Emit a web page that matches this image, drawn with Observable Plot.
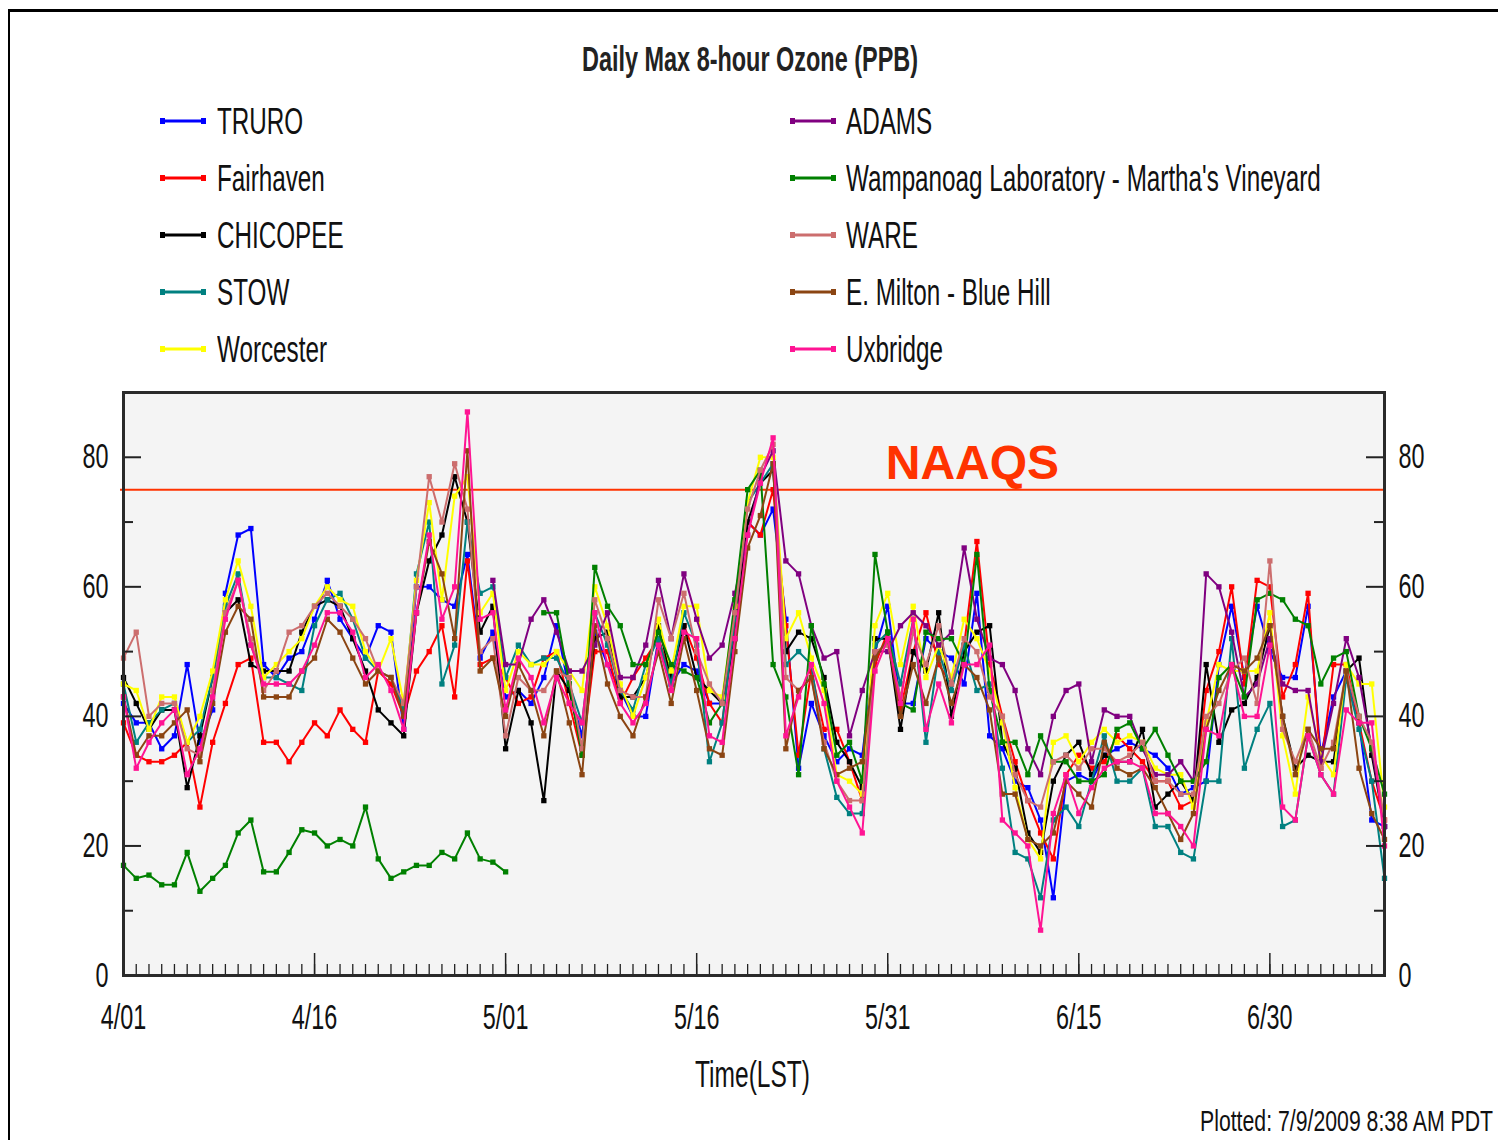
<!DOCTYPE html>
<html>
<head>
<meta charset="utf-8">
<script src="https://cdn.jsdelivr.net/npm/d3@7"></script>
<script src="https://cdn.jsdelivr.net/npm/@observablehq/plot@0.6"></script>
<style>
  html, body { margin: 0; padding: 0; background: #fff; }
  #page { position: relative; width: 1498px; height: 1140px; overflow: hidden; background: #fff;
          font-family: "Liberation Sans", Arial, sans-serif; }
  #frameOuter { position: absolute; left: 8px; top: 9px; right: -10px; bottom: -10px;
                border-top: 3px solid #000; border-left: 2px solid #000; }
  #chart { position: absolute; left: 0; top: 380px; }
  .sw { position: absolute; }
</style>
</head>
<body>
<div id="page">
  <div id="frameOuter"></div>
  <div id="chart"></div>
</div>
<script>
// ---------- data (daily max 8-hour ozone, ppb; index 0 = 4/01) ----------
const truro = [42,39,39,35,37,48,36,41,59,68, 69,48,46,49,50,55,61,55,52,49,
  54,53,38,60,60,58,57,65,49,53, 43,44,42,46,54,44,37,53,48,44,
  40,40,52,45,48,47,42,42,55,70, 68,72,55,32,42,37,33,35,34,50,
  57,42,42,52,50,49,45,59,37,35, 30,29,24,12,30,31,30,34,35,36,
  35,34,32,28,29,30,48,57,46,57, 50,46,46,57,34,43,47,39,24,23];
const fairhaven = [39,34,33,33,34,36,26,36,42,48, 49,36,36,33,36,39,37,41,38,36,
  47,45,40,47,50,54,43,64,48,49, 46,42,43,49,50,42,34,50,50,42,
  46,49,52,46,54,49,42,39,54,70, 68,75,54,34,47,38,38,33,27,48,
  53,41,50,56,48,45,51,67,48,40, 33,27,22,18,31,34,32,33,37,35,
  33,30,30,26,27,44,50,60,45,61, 60,43,48,59,32,48,48,39,30,24];
const chicopee = [46,42,38,41,41,29,37,46,56,58, 48,47,47,47,53,57,58,57,52,47,
  41,39,37,56,64,68,77,70,53,57, 35,44,39,27,47,44,35,52,53,43,
  43,46,54,46,54,46,44,42,52,70, 76,78,50,53,52,46,36,33,29,52,
  52,38,50,47,56,40,50,53,54,36, 32,22,19,30,34,36,31,34,33,33,
  38,26,28,30,27,48,36,41,42,46, 54,40,32,34,33,33,47,49,34,23];
const stow = [45,36,39,41,42,36,38,46,57,62, 51,46,46,45,44,54,58,59,55,49,
  47,46,41,62,70,45,51,70,59,60, 46,51,48,49,49,45,39,56,51,44,
  41,48,52,45,56,51,33,39,55,73, 76,79,48,50,48,35,27.5,25,25,51,
  53,45,55,36,50,44,51,44,45,32, 19,18,12,24,26,23,30,37,30,30,
  32,23,23,19,18,30,30,52,32,38, 42,23,24,37,31,28,46,38,30,15];
const worcester = [45,44,38,43,43,36,40,47,58,64, 57,46,48,50,52,57,60,58,57,50,
  47,52,42,61,73,58,74,77,56,59, 44,50,48,48,50,47,44,60,54,45,
  40,46,55,47,57,57,44,43,57,73, 80,80,52,56,49,44,31,30,28,54,
  59,48,57,46,51,46,55,52,47,39, 29,21,18,36,37,33,36,38,36,37,
  36,32,31,31,26,39,48,47,47,47, 56,37,28,43,34,31,48,45,45,26];
const ADAMS_START = 29; // first day with data (4/30)
const adams = [61,48,48,55,58,53,47,47,51,56,46,
  46,51,61,52,62,55,49,51,59,68, 77,81,64,62,54,49,50,37,44,50,
  50,54,56,54,51,53,66,55,49,48, 44,35,31,40,44,45,33,41,40,40,
  35,31,31,33,30,62,60,53,43,45, 52,45,44,44,33,42,52,46,35,23];
const wampanoag = [17,15,15.5,14,14,19,13,15,17,22, 24,16,16,19,22.5,22,20,21,20,26,
  18,15,16,17,17,19,18,22,18,17.5, 16,null,null,56,56,45,34,63,57,54,
  48,48,53,48,47,46,39,42,58,75, 78,48,43,31,54,45,34,36,30,65,
  53,42,41,53,52,52,48,65,44,36, 36,31,37,33,33,30,30,31,38,39,
  35,38,34,30,30,33,46,48,43,58, 59,58,55,54,45,49,50,40,35,28];
const ware = [49,53,40,42,42,35,34,44,56,61, 52,44,47,53,54,57,59,57,55,52,
  47,46,42,60,77,70,79,72,50,52, 37,46,44,44,47,46,35,58,52,44,
  43,43,58,52,59,50,45,42,56,72, 78,82,46,44,46,36,30,27,27,50,
  51,43,53,48,54,45,52,50,43,40, 31,27,26,33,34,32,35,35,33,34,
  36,30,30,28,28,40,42,47,49,42, 64,38,33,38,32,36,47,40,36,24];
const eMilton = [43,34,37,37,39,41,33,42,53,57, 55,43,43,43,47,49,55,53,49,45,
  47,46,40,56,67,62,52,81,47,49, 40,48,44,37,47,39,31,54,45,40,
  37,43,50,42,52,44,35,34,50,66, 71,79,35,44,46,35,31,32,33,49,
  52,40,48,42,49,42,48,46,41,28, 28,21,20,22,30,28,26,36,32,31,
  32,29,25,21,25,38,44,48,47,49, 54,40,31,38,35,35,47,32,25,21];
const uxbridge = [43,32,36,39,41,31,35,43,55,61, 51,45,45,45,47,51,56,56,53,46,
  48,44,38,56,68,55,60,87,55,56, 41,49,46,39,46,42,39,56,48,42,
  39,42,51,44,53,52,37,36,52,68, 76,83,37,43,48,42,30,26,22,47,
  52,42,55,38,45,39,48,48,51,24, 22,20,7,25,31,25,29,32,33,33,
  32,25,25,23,20,38,37,48,40,40, 51,26,24,37,31,28,41,39,39,20];

const seriesNames  = ["TRURO","Fairhaven","CHICOPEE","STOW","Worcester",
                      "ADAMS","Wampanoag Laboratory - Martha's Vineyard","WARE","E. Milton - Blue Hill","Uxbridge"];
const seriesColors = ["#0000ff","#ff0000","#000000","#008080","#ffff00",
                      "#800080","#008000","#cc6e6e","#8b4513","#ff1493"];
const seriesValues = [truro, fairhaven, chicopee, stow, worcester, adams, wampanoag, ware, eMilton, uxbridge];
const seriesStart  = [0,0,0,0,0, ADAMS_START, 0,0,0,0];

const xTickDays   = [0, 15, 30, 45, 60, 75, 90];
const xTickLabels = ["4/01","4/16","5/01","5/16","5/31","6/15","6/30"];
const yMajor = [0, 20, 40, 60, 80];
const yMinor = [10, 30, 50, 70, 90];
const naaqs = 75;
const lastDay = 99;
const dayTicks = d3.range(0, lastDay + 1);

// ---------- layout ----------
const W = 1498, H = 760, mL = 123, mR = 114, mT = 12, mB = 165;
const fw = W - mL - mR, fh = H - mT - mB;
const tickFont = "Liberation Sans, Arial, sans-serif";

const rows = seriesNames.flatMap((name, k) =>
  seriesValues[k].map((v, i) => ({name, day: seriesStart[k] + i, value: v})));

const seriesMarks = seriesNames.flatMap((name, k) => {
  const d = rows.filter(r => r.name === name);
  return [
    Plot.line(d, {x: "day", y: "value", stroke: seriesColors[k], strokeWidth: 2}),
    Plot.dot(d, {x: "day", y: "value", symbol: "square", r: 3, fill: seriesColors[k], stroke: "none"})
  ];
});

const chart = Plot.plot({
  width: W, height: H,
  marginLeft: mL, marginRight: mR, marginTop: mT, marginBottom: mB,
  style: {background: "transparent", overflow: "visible"},
  x: {domain: [0, lastDay], axis: null},
  y: {domain: [0, 90], axis: null},
  marks: [
    Plot.frame({fill: "#f4f4f4", stroke: "none"}),
    Plot.ruleY([naaqs], {stroke: "#ff3300", strokeWidth: 2, insetLeft: -3}),
    Plot.text(["NAAQS"], {x: xTickDays[4], y: naaqs, text: d => d, textAnchor: "start", dx: -2, dy: -26,
      fontSize: 48, fontWeight: "bold", fill: "#ff3300", fontFamily: tickFont}),
    ...seriesMarks,
    // inward ticks
    Plot.tickX(dayTicks, {x: d => d, stroke: "#222", strokeWidth: 1.3, insetTop: fh - 11}),
    Plot.tickX(xTickDays, {x: d => d, stroke: "#222", strokeWidth: 1.5, insetTop: fh - 22}),
    Plot.tickY(yMajor, {y: d => d, stroke: "#222", strokeWidth: 2, insetRight: fw - 18}),
    Plot.tickY(yMinor, {y: d => d, stroke: "#222", strokeWidth: 2, insetRight: fw - 10}),
    Plot.tickY(yMajor, {y: d => d, stroke: "#222", strokeWidth: 2, insetLeft: fw - 18}),
    Plot.tickY(yMinor, {y: d => d, stroke: "#222", strokeWidth: 2, insetLeft: fw - 10}),
    Plot.frame({stroke: "#2a2a2a", strokeWidth: 3}),
    // tick labels
    Plot.text(xTickDays, {x: d => d, frameAnchor: "bottom", dy: 53, text: (d, i) => xTickLabels[i],
      fontSize: 36, fill: "#111", fontFamily: tickFont}),
    Plot.text(yMajor, {y: d => d, frameAnchor: "left", dx: -15, dy: 11, textAnchor: "end", text: d => String(d),
      fontSize: 36, fill: "#111", fontFamily: tickFont}),
    Plot.text(yMajor, {y: d => d, frameAnchor: "right", dx: 14, dy: 11, textAnchor: "start", text: d => String(d),
      fontSize: 36, fill: "#111", fontFamily: tickFont})
  ]
});
document.getElementById("chart").appendChild(chart);

// condense the tick labels (original uses a narrow face)
chart.querySelectorAll("text").forEach(t => {
  if (t.textContent === "NAAQS") return;
  const x = +t.getAttribute("x") || 0, y = +t.getAttribute("y") || 0;
  t.setAttribute("x", 0); t.setAttribute("y", 0);
  const prev = t.getAttribute("transform") || "";
  t.setAttribute("transform", `${prev} translate(${x},${y}) scale(0.65,1)`);
});

// ---------- html texts ----------
const page = document.getElementById("page");
function label(txt, {x0, x1 = null, cy, fs, bold = false, sx = 1, color = "#111"}) {
  const s = document.createElement("span");
  s.textContent = txt;
  s.style.cssText = `position:absolute;white-space:nowrap;font-size:${fs}px;line-height:${fs}px;` +
    `font-weight:${bold ? 700 : 400};color:${color};left:${x0}px;top:${cy - 0.49 * fs}px;transform-origin:0 50%;`;
  page.appendChild(s);
  const w = s.getBoundingClientRect().width;
  const k = x1 != null ? (x1 - x0) / w : sx;
  s.style.transform = `scaleX(${k})`;
}
label("Daily Max 8-hour Ozone (PPB)", {x0: 582, x1: 918, cy: 58, fs: 35, bold: true, color: "#222"});
label("Time(LST)", {x0: 695, x1: 810, cy: 1074, fs: 37});
label("Plotted: 7/9/2009 8:38 AM PDT", {x0: 1200, x1: 1493, cy: 1121, fs: 29});

// legend
const legRowY = [121, 178, 235, 292, 349];
seriesNames.forEach((name, k) => {
  const col = k < 5 ? 0 : 1, row = k % 5;
  const sx0 = col === 0 ? 160 : 790, tx0 = col === 0 ? 217 : 846;
  const cy = legRowY[row];
  const svg = d3.create("svg").attr("class", "sw").attr("width", 50).attr("height", 12)
    .style("left", (sx0 - 2) + "px").style("top", (cy - 6) + "px");
  svg.append("line").attr("x1", 4).attr("x2", 46).attr("y1", 6).attr("y2", 6)
    .attr("stroke", seriesColors[k]).attr("stroke-width", 3);
  svg.append("rect").attr("x", 2).attr("y", 3).attr("width", 5).attr("height", 6).attr("fill", seriesColors[k]);
  svg.append("rect").attr("x", 43).attr("y", 3).attr("width", 5).attr("height", 6).attr("fill", seriesColors[k]);
  page.appendChild(svg.node());
  label(name, {x0: tx0, cy, fs: 37, sx: 0.655});
});
</script>
</body>
</html>
